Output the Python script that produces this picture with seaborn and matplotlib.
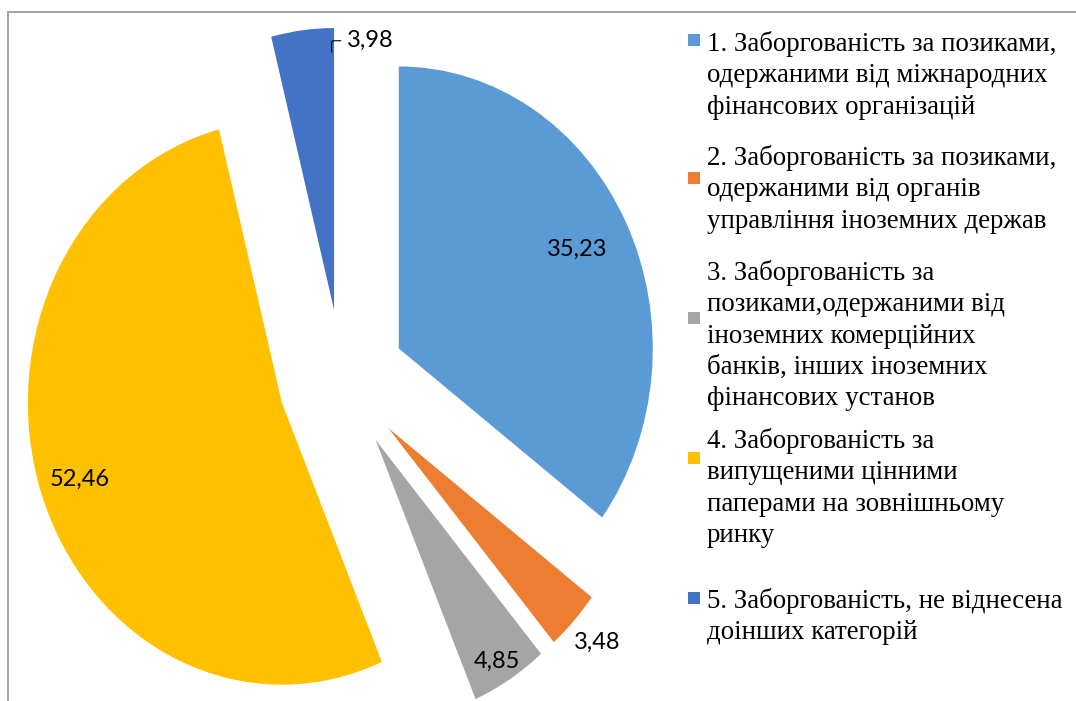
import matplotlib
matplotlib.use("Agg")
import matplotlib.pyplot as plt
import seaborn as sns
import numpy as np
from matplotlib.patches import Rectangle

# ---- data ----
categories = [
    "1. Заборгованість за позиками,\nодержаними від міжнародних\nфінансових організацій",
    "2. Заборгованість за позиками,\nодержаними від органів\nуправління іноземних держав",
    "3. Заборгованість за\nпозиками,одержаними від\nіноземних комерційних\nбанків, інших іноземних\nфінансових установ",
    "4. Заборгованість за\nвипущеними цінними\nпаперами на зовнішньому\nринку",
    "5. Заборгованість, не віднесена\nдоінших категорій",
]
values = [35.23, 3.48, 4.85, 52.46, 3.98]
value_labels = ["35,23", "3,48", "4,85", "52,46", "3,98"]
colors = ["#5B9BD5", "#ED7D31", "#A5A5A5", "#FFC000", "#4472C4"]

sns.set_theme(style="white")
plt.rcParams['font.family'] = ['Liberation Serif', 'DejaVu Sans']

W, H = 1076, 701
fig = plt.figure(figsize=(W / 100, H / 100), dpi=100)
ax = fig.add_axes([0, 0, 1, 1])

wedges, _ = ax.pie(values, colors=colors, startangle=90, counterclock=False,
                   explode=[0.25] * len(values), radius=1.0,
                   wedgeprops=dict(linewidth=0))

# pixel geometry: center (342,380), rx 254 px, ry 282 px
cx, cy, rx, ry = 342, 380, 254, 282
ax.set_aspect('auto')
ax.set_xlim(-cx / rx, (W - cx) / rx)
ax.set_ylim(-(H - cy) / ry, cy / ry)
ax.axis('off')

lab_font = dict(fontsize=17, family=['Lato', 'DejaVu Sans'], color='#000000')

# data labels
label_r = [0.785, 1.12, 0.92, 0.84, None]
label_da = [0.0, 0.3, -0.6, 0.2, 0]
for w, lab, r, da in zip(wedges, value_labels, label_r, label_da):
    x0, y0 = w.center
    if r is None:
        # small slice with leader line
        t = np.deg2rad(min(w.theta1, w.theta2) + 0.6)
        px, py = x0 + 0.915 * np.cos(t), y0 + 0.915 * np.sin(t)
        ax.annotate(lab, xy=(px, py), xytext=(px + 0.06, py + 0.04),
                    va='center', ha='left', **lab_font,
                    arrowprops=dict(arrowstyle='-', color='#000000', lw=0.8,
                                    connectionstyle='angle,angleA=0,angleB=90,rad=2',
                                    shrinkA=2, shrinkB=0))
    else:
        ang = np.deg2rad((w.theta1 + w.theta2) / 2 + da)
        ax.text(x0 + r * np.cos(ang), y0 + r * np.sin(ang), lab,
                ha='center', va='center', **lab_font)

# legend (manual layout to match reference)
first_line_y = [43, 157, 272, 440, 600]
marker_y = [40, 178, 318, 458, 598]
for lab, c, ty, my in zip(categories, colors, first_line_y, marker_y):
    fig.text(707 / W, 1 - (ty - 12) / H, lab, fontsize=19.4, ha='left', va='top',
             linespacing=1.33, color='#000000')
    fig.patches.append(Rectangle((688 / W, 1 - (my + 6) / H), 12 / W, 12 / H,
                                 transform=fig.transFigure, facecolor=c,
                                 edgecolor='none'))

# chart border
fig.patches.append(Rectangle((8 / W, -0.05), 1.1, 1 - 12 / H + 0.05,
                             transform=fig.transFigure, facecolor='none',
                             edgecolor='#A6A6A6', linewidth=1.5))

fig.savefig("out.png", dpi=100)
